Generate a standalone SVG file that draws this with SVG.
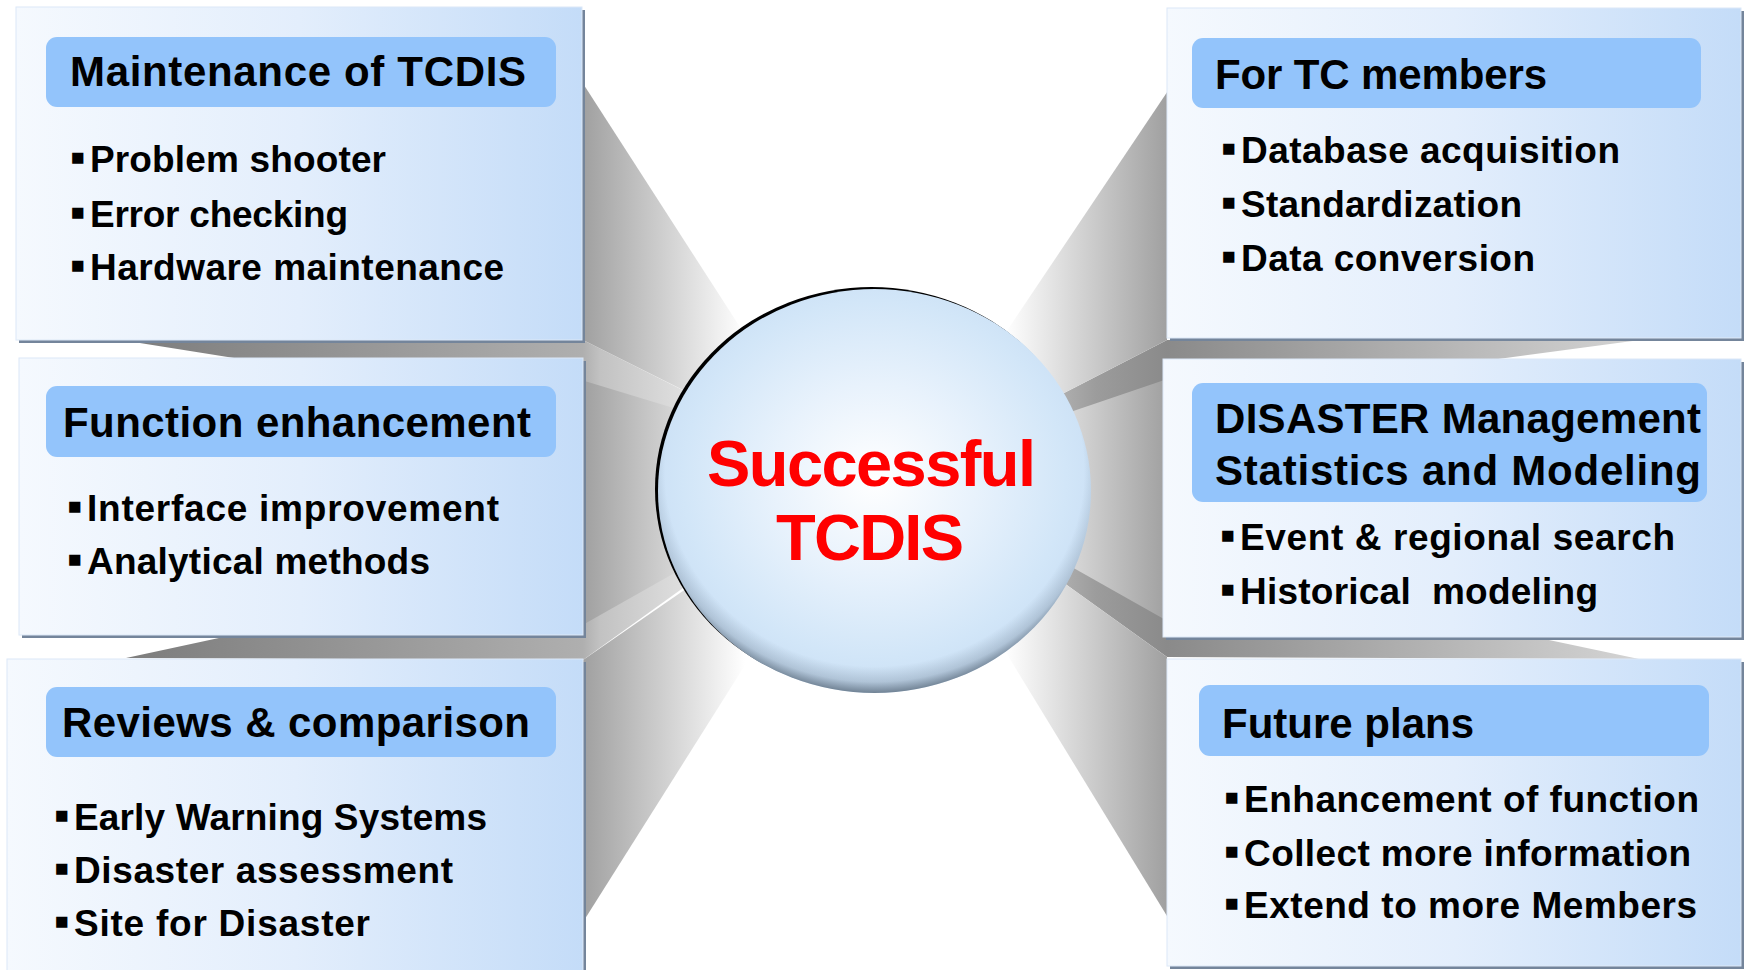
<svg xmlns="http://www.w3.org/2000/svg" width="1748" height="970" viewBox="0 0 1748 970">
<defs>
<style>
.box{fill:url(#boxGrad);stroke:#dce8f7;stroke-width:1}
.shadow{fill:#74859b}
.hdr{fill:#93c4fb}
.title{font-family:"Liberation Sans",Arial,sans-serif;font-weight:bold;font-size:42px;fill:#000}
.item{font-family:"Liberation Sans",Arial,sans-serif;font-weight:bold;font-size:37px;fill:#000;white-space:pre}
.bl{font-size:45px}
.ctr{font-family:"Liberation Sans",Arial,sans-serif;font-weight:bold;font-size:65px;fill:#ff0000}
</style>
<linearGradient id="boxGrad" x1="0" y1="0" x2="1" y2="0">
<stop offset="0" stop-color="#f5f9fe"/>
<stop offset="0.5" stop-color="#e3eefc"/>
<stop offset="1" stop-color="#c4dcf8"/>
</linearGradient>
<linearGradient id="gL" gradientUnits="userSpaceOnUse" x1="583" y1="0" x2="745" y2="0">
<stop offset="0" stop-color="#a0a0a0"/>
<stop offset="1" stop-color="#ffffff"/>
</linearGradient>
<linearGradient id="gR" gradientUnits="userSpaceOnUse" x1="1167" y1="0" x2="1005" y2="0">
<stop offset="0" stop-color="#a0a0a0"/>
<stop offset="1" stop-color="#ffffff"/>
</linearGradient>
<linearGradient id="gLb" gradientUnits="userSpaceOnUse" x1="121" y1="0" x2="720" y2="0">
<stop offset="0" stop-color="#7c7c7c"/>
<stop offset="0.771" stop-color="#afafaf"/>
<stop offset="0.8" stop-color="#c2c2c2"/>
<stop offset="1" stop-color="#ececec"/>
</linearGradient>
<linearGradient id="gRb" gradientUnits="userSpaceOnUse" x1="1640" y1="0" x2="1000" y2="0">
<stop offset="0" stop-color="#d4d4d4"/>
<stop offset="0.739" stop-color="#8a8a8a"/>
<stop offset="0.85" stop-color="#9c9c9c"/>
<stop offset="1" stop-color="#d0d0d0"/>
</linearGradient>
<radialGradient id="ballGrad" cx="0.5" cy="0.47" r="0.52">
<stop offset="0" stop-color="#ffffff"/>
<stop offset="0.45" stop-color="#e8f2fc"/>
<stop offset="0.85" stop-color="#d2e6f8"/>
<stop offset="1" stop-color="#cbe0f5"/>
</radialGradient>
<radialGradient id="bevel" cx="0.5" cy="0.45" r="0.55">
<stop offset="0" stop-color="#5a6b7c" stop-opacity="0"/>
<stop offset="0.88" stop-color="#5a6b7c" stop-opacity="0"/>
<stop offset="0.95" stop-color="#5a6b7c" stop-opacity="0.25"/>
<stop offset="1" stop-color="#5a6b7c" stop-opacity="0.8"/>
</radialGradient>
</defs>

<rect width="1748" height="970" fill="#ffffff"/>

<g id="connectors">
<polygon points="121,340 583,340 798,448" fill="url(#gLb)"/>
<polygon points="126,658 583,660 783,516" fill="url(#gLb)"/>
<polygon points="583,83.5 827,462 583,340" fill="url(#gL)"/>
<polygon points="583,660 783,522 783,605 583,922" fill="url(#gL)"/>
<polygon points="583,380.5 864,466 583,624.8" fill="url(#gL)"/>
<polygon points="1167,340 1640,340 1000,426" fill="url(#gRb)"/>
<polygon points="1167,657 1639,659 975,519" fill="url(#gRb)"/>
<polygon points="1167.5,91.6 1000,341 1000,426 1167,340" fill="url(#gR)"/>
<polygon points="1167,657 975,519 975,602 1167,916" fill="url(#gR)"/>
<polygon points="1163,380.5 900,470 1163,618.6" fill="url(#gR)"/>
</g>

<g id="node-maintenance">
<rect class="shadow" x="19" y="10" width="566" height="333"/>
<rect class="box" x="16" y="7" width="566" height="333"/>
<rect class="hdr" x="46" y="37" width="510" height="70" rx="11"/>
<text class="title" x="70" y="86" textLength="456">Maintenance of TCDIS</text>
<text class="item" y="172"><tspan class="bl" x="70">▪</tspan><tspan x="90" textLength="296">Problem shooter</tspan></text>
<text class="item" y="227"><tspan class="bl" x="70">▪</tspan><tspan x="90" textLength="258">Error checking</tspan></text>
<text class="item" y="280"><tspan class="bl" x="70">▪</tspan><tspan x="90" textLength="414">Hardware maintenance</tspan></text>
</g>

<g id="node-function">
<rect class="shadow" x="22" y="361" width="564" height="277"/>
<rect class="box" x="19" y="358" width="564" height="277"/>
<rect class="hdr" x="46" y="386" width="510" height="71" rx="11"/>
<text class="title" x="63" y="437" textLength="468">Function enhancement</text>
<text class="item" y="521"><tspan class="bl" x="67">▪</tspan><tspan x="87" textLength="412">Interface improvement</tspan></text>
<text class="item" y="574"><tspan class="bl" x="67">▪</tspan><tspan x="87" textLength="343">Analytical methods</tspan></text>
</g>

<g id="node-reviews">
<rect class="shadow" x="10" y="662" width="576" height="320"/>
<rect class="box" x="7" y="659" width="576" height="320"/>
<rect class="hdr" x="46" y="687" width="510" height="70" rx="11"/>
<text class="title" x="62" y="737" textLength="468">Reviews &amp; comparison</text>
<text class="item" y="830"><tspan class="bl" x="54">▪</tspan><tspan x="74" textLength="413">Early Warning Systems</tspan></text>
<text class="item" y="883"><tspan class="bl" x="54">▪</tspan><tspan x="74" textLength="379">Disaster assessment</tspan></text>
<text class="item" y="936"><tspan class="bl" x="54">▪</tspan><tspan x="74" textLength="296">Site for Disaster</tspan></text>
</g>

<g id="node-members">
<rect class="shadow" x="1170" y="11" width="574" height="330"/>
<rect class="box" x="1167" y="8" width="574" height="330"/>
<rect class="hdr" x="1192" y="38" width="509" height="70" rx="11"/>
<text class="title" x="1215" y="89" textLength="332">For TC members</text>
<text class="item" y="163"><tspan class="bl" x="1221">▪</tspan><tspan x="1241" textLength="379">Database acquisition</tspan></text>
<text class="item" y="217"><tspan class="bl" x="1221">▪</tspan><tspan x="1241" textLength="281">Standardization</tspan></text>
<text class="item" y="271"><tspan class="bl" x="1221">▪</tspan><tspan x="1241" textLength="294">Data conversion</tspan></text>
</g>

<g id="node-disaster">
<rect class="shadow" x="1166" y="362" width="578" height="278"/>
<rect class="box" x="1163" y="359" width="578" height="278"/>
<rect class="hdr" x="1192" y="383" width="515" height="119" rx="11"/>
<text class="title" x="1215" y="433" textLength="486">DISASTER Management</text>
<text class="title" x="1215" y="485" textLength="486">Statistics and Modeling</text>
<text class="item" y="550"><tspan class="bl" x="1220">▪</tspan><tspan x="1240" textLength="435">Event &amp; regional search</tspan></text>
<text class="item" y="604"><tspan class="bl" x="1220">▪</tspan><tspan x="1240" textLength="358">Historical  modeling</tspan></text>
</g>

<g id="node-future">
<rect class="shadow" x="1170" y="662" width="574" height="307"/>
<rect class="box" x="1167" y="659" width="574" height="307"/>
<rect class="hdr" x="1199" y="685" width="510" height="71" rx="11"/>
<text class="title" x="1222" y="738" textLength="252">Future plans</text>
<text class="item" y="812"><tspan class="bl" x="1224">▪</tspan><tspan x="1244" textLength="455">Enhancement of function</tspan></text>
<text class="item" y="866"><tspan class="bl" x="1224">▪</tspan><tspan x="1244" textLength="447">Collect more information</tspan></text>
<text class="item" y="918"><tspan class="bl" x="1224">▪</tspan><tspan x="1244" textLength="453">Extend to more Members</tspan></text>
</g>

<g id="node-center">
<ellipse cx="871.5" cy="489" rx="216.5" ry="202" fill="#000000"/>
<ellipse cx="874.5" cy="491" rx="216.5" ry="202" fill="url(#ballGrad)"/>
<ellipse cx="874.5" cy="491" rx="216.5" ry="202" fill="url(#bevel)"/>
<text class="ctr" x="707" y="486" textLength="329">Successful</text>
<text class="ctr" x="776" y="560" textLength="188">TCDIS</text>
</g>
</svg>
